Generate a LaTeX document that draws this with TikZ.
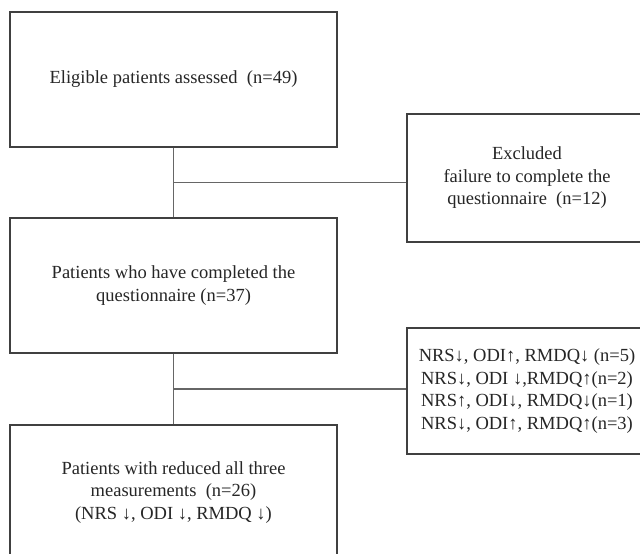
\documentclass[tikz,border=0pt]{standalone}
\usepackage{fontspec}
\setmainfont{Liberation Serif}
\usetikzlibrary{calc}
\begin{document}
\begin{tikzpicture}[x=1pt,y=1pt,
    flowbox/.style={draw=black!75, line width=1.1pt, align=center, text=black!85,
        font=\fontsize{18.5}{22.5}\selectfont, inner sep=0pt},
    mainbox/.style={flowbox, minimum width=327pt, minimum height=135pt},
    sidebox/.style={flowbox, minimum width=240pt, minimum height=128pt},
    link/.style={draw=black!60, line width=1.1pt}]
\useasboundingbox (0,0) rectangle (640,-554);
\fill[white] (0,0) rectangle (640,-554);
% main column
\node[mainbox] (elig) at (173.5,-79.5) {Eligible patients assessed\ \ (n=49)};
\node[mainbox] (done) at (173.5,-285.5) {Patients who have completed the\\ questionnaire\ (n=37)};
\node[mainbox] (reduced) at (173.5,-492.5) {Patients with reduced all three\\ measurements\ \ (n=26)\\ (NRS ↓, ODI ↓, RMDQ ↓)};
% side boxes
\node[sidebox] (excl) at (527,-178) {Excluded\\ failure to complete the\\ questionnaire\ \ (n=12)};
\node[sidebox, minimum height=126pt] (mixed) at (527,-391) {NRS↓, ODI↑, RMDQ↓ (n=5)\\ NRS↓, ODI ↓,RMDQ↑(n=2)\\ NRS↑, ODI↓, RMDQ↓(n=1)\\ NRS↓, ODI↑, RMDQ↑(n=3)};
% connectors
\coordinate (j1) at ($(elig.south)!0.5!(done.north)$);
\coordinate (j2) at ($(done.south)!0.5!(reduced.north)$);
\draw[link] (elig.south) -- (done.north);
\draw[link] (j1) -- (j1 -| excl.west);
\draw[link] (done.south) -- (reduced.north);
\draw[link] (j2) -- (j2 -| mixed.west);
\end{tikzpicture}
\end{document}
